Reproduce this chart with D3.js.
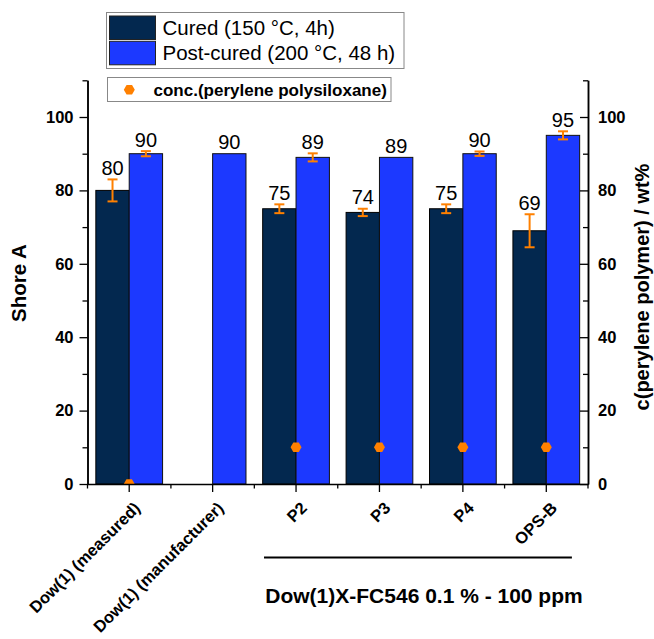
<!DOCTYPE html>
<html><head><meta charset="utf-8">
<script src="https://cdn.jsdelivr.net/npm/d3@7"></script>
<style>body{margin:0;background:#fff} text{font-family:"Liberation Sans",Arial,sans-serif}</style>
</head><body><svg id="c" width="654" height="639"></svg>
<script>
const categories = ["Dow(1) (measured)","Dow(1) (manufacturer)","P2","P3","P4","OPS-B"];
const curedValues = [80,null,75,74,75,69];
const curedErrors = [3,null,1.2,1,1.2,4.5];
const postValues = [90,90,89,89,90,95];
const postErrors = [0.7,null,1.1,null,0.6,1.1];
const concValues = [0,null,10,10,10,10];
const majorTicks = [0,20,40,60,80,100];
const minorTicks = [10,30,50,70,90,110];
const seriesNames = ["Cured (150 °C, 4h)","Post-cured (200 °C, 48 h)"];
const concName = "conc.(perylene polysiloxane)";
const groupLabel = "Dow(1)X-FC546 0.1 % - 100 ppm";
const groupCats = ["P2","OPS-B"];

const colCured = "#03284f", colPost = "#1c39ff", colOrange = "#ff8000";
const svg = d3.select("#c");
const L = 87.5, R = 588, T = 80.3, B = 484;
const x = d3.scaleBand().domain(categories).range([L, R]).padding(0);
const y = d3.scaleLinear().domain([0,110]).range([B, T]);
const y2 = d3.scaleLinear().domain([0,110]).range([B, T]);
const bw = x.bandwidth();
const barW = bw*0.4;
const cx = c => x(c) + bw/2;

svg.append("defs").append("clipPath").attr("id","pc").append("rect")
  .attr("x",L).attr("y",T).attr("width",R-L).attr("height",B-T);

const g = svg.append("g");
const rows = categories.map((c,i)=>({c,i}));
g.selectAll(".cb").data(rows.filter(d=>curedValues[d.i]!=null)).enter().append("rect")
  .attr("x",d=>cx(d.c)-barW).attr("y",d=>y(curedValues[d.i])).attr("width",barW)
  .attr("height",d=>B-y(curedValues[d.i])).attr("fill",colCured).attr("stroke","#000").attr("stroke-width",1);
g.selectAll(".pb").data(rows.filter(d=>postValues[d.i]!=null)).enter().append("rect")
  .attr("x",d=>cx(d.c)).attr("y",d=>y(postValues[d.i])).attr("width",barW)
  .attr("height",d=>B-y(postValues[d.i])).attr("fill",colPost).attr("stroke","#111").attr("stroke-width",1);

function errBars(vals, errs, off){
  rows.filter(d=>vals[d.i]!=null && errs[d.i]!=null).forEach(d=>{
    const xc = cx(d.c)+off, v=vals[d.i], e=errs[d.i];
    const eg = g.append("g").attr("stroke",colOrange).attr("stroke-width",2).attr("fill","none");
    eg.append("line").attr("x1",xc).attr("x2",xc).attr("y1",y(v+e)).attr("y2",y(v-e));
    eg.append("line").attr("x1",xc-5).attr("x2",xc+5).attr("y1",y(v+e)).attr("y2",y(v+e));
    eg.append("line").attr("x1",xc-5).attr("x2",xc+5).attr("y1",y(v-e)).attr("y2",y(v-e));
  });
}
errBars(curedValues, curedErrors, -barW/2);
errBars(postValues, postErrors, barW/2);

function valLabels(vals, errs, off){
  rows.filter(d=>vals[d.i]!=null).forEach(d=>{
    const v=vals[d.i], e=errs[d.i]||0;
    g.append("text").attr("x",cx(d.c)+off).attr("y",y(v+e)-4.5)
      .attr("text-anchor","middle").attr("font-size",20).attr("fill","#000").text(v);
  });
}
valLabels(curedValues, curedErrors, -barW/2);
valLabels(postValues, postErrors, barW/2);

const hex = r => d3.range(6).map(k=>{const a=k*Math.PI/3;return [r*Math.cos(a), r*Math.sin(a)];});
const hexPath = "M"+hex(5.5).map(p=>p.join(",")).join("L")+"Z";
svg.append("g").attr("clip-path","url(#pc)").selectAll("path")
  .data(rows.filter(d=>concValues[d.i]!=null)).enter().append("path")
  .attr("d",hexPath).attr("transform",d=>`translate(${cx(d.c)},${y2(concValues[d.i])})`)
  .attr("fill",colOrange);

const axCol = "#000";
const la = svg.append("g").attr("transform",`translate(${L},0)`)
  .call(d3.axisLeft(y).tickValues(majorTicks).tickSize(8).tickSizeOuter(0).tickPadding(6));
la.append("g").call(d3.axisLeft(y).tickValues(minorTicks).tickSize(5).tickFormat("").tickSizeOuter(0));
const ra = svg.append("g").attr("transform",`translate(${R},0)`)
  .call(d3.axisRight(y2).tickValues(majorTicks).tickSize(-8).tickSizeOuter(0).tickPadding(10));
ra.append("g").call(d3.axisRight(y2).tickValues(minorTicks).tickSize(-5).tickFormat("").tickSizeOuter(0));
const ba = svg.append("g").attr("transform",`translate(0,${B})`)
  .call(d3.axisBottom(x).tickSize(8).tickSizeOuter(0).tickFormat(""));
const bounds = categories.map(c=>x(c)).concat([R]);
ba.append("g").selectAll("line").data(bounds).enter().append("line")
  .attr("x1",d=>d).attr("x2",d=>d).attr("y1",0).attr("y2",4.5);
[la,ra,ba].forEach(a=>{
  a.selectAll("path.domain").attr("stroke",axCol).attr("stroke-width",1.5);
  a.selectAll("line").attr("stroke",axCol).attr("stroke-width",1.3);
  a.selectAll("text").attr("font-size",16.5).attr("font-weight","bold").attr("fill","#000")
    .attr("font-family",'"Liberation Sans",Arial,sans-serif');
});
svg.append("g").selectAll("text").data(categories).enter().append("text")
  .attr("transform",c=>`translate(${cx(c)+12},509) rotate(-45)`)
  .attr("text-anchor","end").attr("font-size",16.5).attr("font-weight","bold").text(c=>c);

svg.append("text").attr("transform","translate(26,283) rotate(-90)").attr("text-anchor","middle")
  .attr("font-size",20.5).attr("font-weight","bold").text("Shore A");
svg.append("text").attr("transform","translate(649,287) rotate(-90)").attr("text-anchor","middle")
  .attr("font-size",20).attr("font-weight","bold").text("c(perylene polymer) / wt%");

const gx1 = x(groupCats[0]) + bw*0.116, gx2 = x(groupCats[1]) + bw*0.807;
svg.append("line").attr("x1",gx1).attr("x2",gx2).attr("y1",557.5).attr("y2",557.5)
  .attr("stroke","#000").attr("stroke-width",2);
svg.append("text").attr("x",424).attr("y",603).attr("text-anchor","middle")
  .attr("font-size",21).attr("font-weight","bold").text(groupLabel);

const lg = svg.append("g");
lg.append("rect").attr("x",106.5).attr("y",12.5).attr("width",297.5).attr("height",56)
  .attr("fill","#fff").attr("stroke","#888").attr("stroke-width",1);
[colCured,colPost].forEach((col,k)=>{
  lg.append("rect").attr("x",109.5).attr("y",16+k*25.3).attr("width",46).attr("height",23.5)
    .attr("fill",col).attr("stroke","#222").attr("stroke-width",1);
  lg.append("text").attr("x",162.5).attr("y",35+k*24.5).attr("font-size",20.5).text(seriesNames[k]);
});
lg.append("rect").attr("x",107.5).attr("y",77.5).attr("width",283.5).attr("height",24)
  .attr("fill","#fff").attr("stroke","#888").attr("stroke-width",1);
lg.append("path").attr("d",hexPath).attr("transform","translate(129.3,89.8)").attr("fill",colOrange);
lg.append("text").attr("x",153.5).attr("y",96).attr("font-size",17).attr("font-weight","bold").text(concName);
</script></body></html>
